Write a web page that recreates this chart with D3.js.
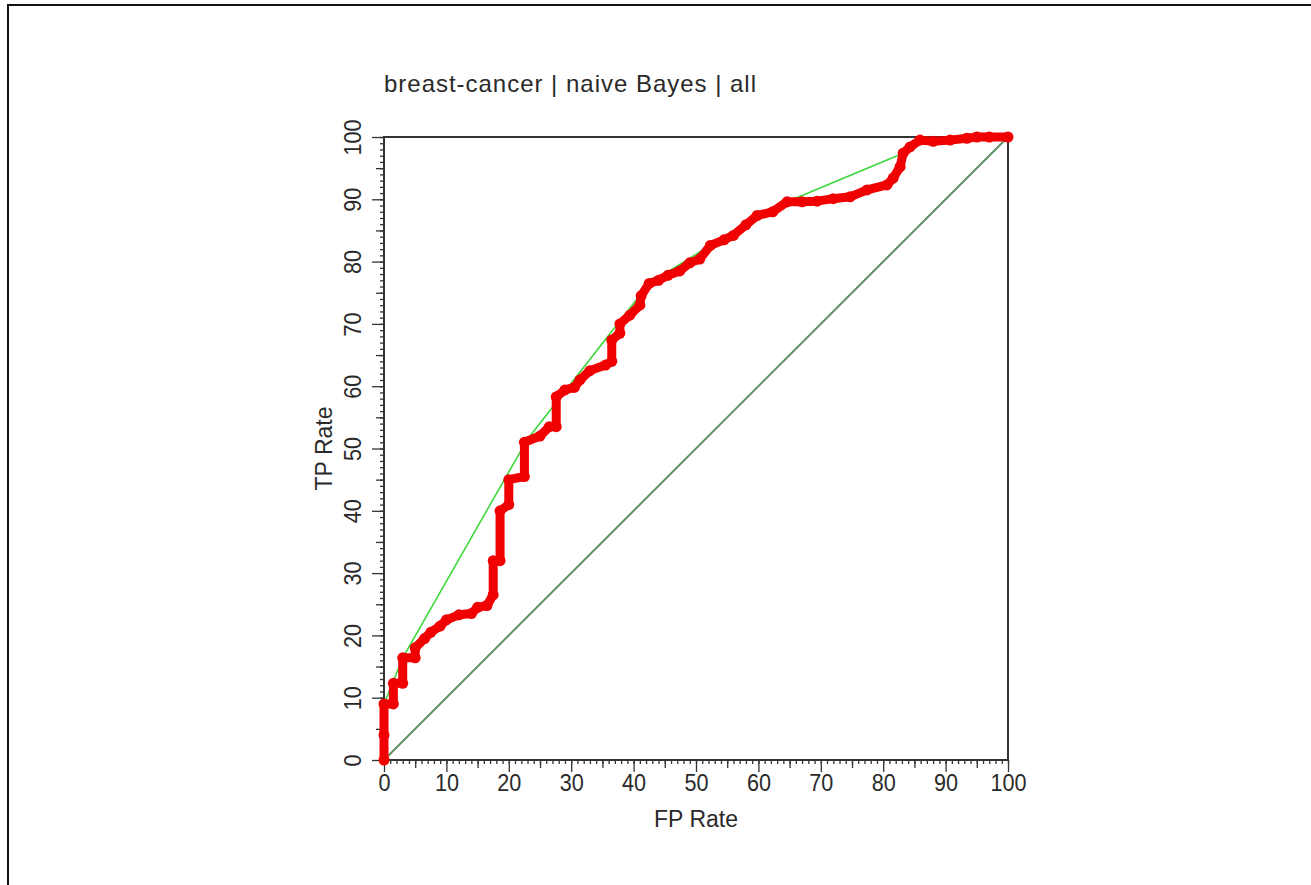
<!DOCTYPE html>
<html>
<head>
<meta charset="utf-8">
<script src="https://cdn.jsdelivr.net/npm/d3@7"></script>
<style>
  html, body { margin: 0; padding: 0; background: #fff; }
  svg { display: block; }
  text { font-family: "Liberation Sans", Arial, sans-serif; fill: #2a2a2a; }
</style>
</head>
<body>
<svg id="chart" width="1311" height="885"></svg>
<script>
// ROC curve: false positive rate vs true positive rate (percent)
const fpRate = [0, 0, 0, 1.5, 1.5, 3, 3, 5, 5, 6.5, 7.5, 9, 10, 12, 14, 15, 16.5, 17.5, 17.5, 18.6, 18.6, 20, 20,
  22.5, 22.5, 25, 26.5, 27.6, 27.6, 29, 30.5, 31.4, 33, 35.5, 36.5, 36.5, 37.8, 37.8, 39.4, 41, 41.2, 42.5, 44,
  45.5, 47.4, 49, 50.6, 52.3, 54.5, 56, 58, 59.8, 62.3, 64.6, 67, 69.4, 72, 74.7, 77.4, 80.6, 81.6, 82.7, 83.2,
  84.3, 85.9, 88, 90.7, 93.4, 95, 97, 100];
const tpRate = [0, 4, 9, 9, 12.3, 12.3, 16.4, 16.4, 18, 19.5, 20.5, 21.5, 22.5, 23.3, 23.5, 24.5, 24.8, 26.5, 32, 32,
  40, 41, 45, 45.5, 51, 52, 53.5, 53.5, 58.3, 59.4, 59.8, 61, 62.5, 63.4, 64, 67.4, 68.5, 70, 71.4, 73, 74.5, 76.5,
  77, 77.8, 78.5, 79.8, 80.4, 82.6, 83.5, 84.2, 85.9, 87.4, 88, 89.6, 89.6, 89.7, 90.1, 90.4, 91.5, 92.3, 93.4,
  95.2, 97.4, 98.4, 99.5, 99.3, 99.5, 99.8, 100, 100, 100];

// ROC convex hull
const hullFp = [0, 0, 3, 23, 42.5, 52.3, 59.8, 64.6, 83.2, 85.9, 95, 100];
const hullTp = [0, 9, 16.4, 51.5, 76.5, 82.6, 87.4, 89.6, 97.4, 99.5, 100, 100];

// chance diagonal
const diagFp = [0, 100];
const diagTp = [0, 100];

const majorTicks = [0, 10, 20, 30, 40, 50, 60, 70, 80, 90, 100];
const midTicks = [5, 15, 25, 35, 45, 55, 65, 75, 85, 95];
const minorTicks = d3.range(0, 101, 1);

const titleText = "breast-cancer | naive Bayes | all";
const xLabel = "FP Rate";
const yLabel = "TP Rate";

const svg = d3.select("#chart");

// outer frame
svg.append("rect")
  .attr("x", 8).attr("y", 5)
  .attr("width", 1400).attr("height", 1000)
  .attr("fill", "none").attr("stroke", "#111").attr("stroke-width", 2);

const x = d3.scaleLinear().domain([0, 100]).range([384, 1008]);
const y = d3.scaleLinear().domain([0, 100]).range([760, 137]);

const axisColor = "#333";
const tickFont = "24px";

// tick layers: minor, mid, major
function drawXAxis(values, size, labels) {
  const g = svg.append("g").attr("transform", `translate(0,${y(0)})`)
    .call(d3.axisBottom(x).tickValues(values).tickSize(size).tickSizeOuter(0)
      .tickFormat(labels ? d3.format("d") : ""));
  g.select(".domain").remove();
  g.selectAll("line").attr("stroke", axisColor).attr("stroke-width", 1.3);
  g.selectAll("text").attr("y", 31).attr("dy", 0)
    .attr("transform", "scale(0.9,1)")
    .style("font-size", tickFont).attr("fill", "#2a2a2a")
    .attr("font-family", "Liberation Sans, Arial, sans-serif");
  return g;
}
function drawYAxis(values, size, labels) {
  const g = svg.append("g").attr("transform", `translate(${x(0)},0)`)
    .call(d3.axisLeft(y).tickValues(values).tickSize(size).tickSizeOuter(0)
      .tickFormat(labels ? d3.format("d") : ""));
  g.select(".domain").remove();
  g.selectAll("line").attr("stroke", axisColor).attr("stroke-width", 1.3);
  g.selectAll("text")
    .attr("transform", "rotate(-90) scale(0.9,1)")
    .attr("x", 0).attr("y", -23).attr("dy", 0)
    .attr("text-anchor", "middle")
    .style("font-size", tickFont).attr("fill", "#2a2a2a")
    .attr("font-family", "Liberation Sans, Arial, sans-serif");
  return g;
}
drawXAxis(minorTicks, 4, false);
drawXAxis(midTicks, 8, false);
drawXAxis(majorTicks, 12, true);
drawYAxis(minorTicks, 4, false);
drawYAxis(midTicks, 8, false);
drawYAxis(majorTicks, 12, true);

// plot frame
svg.append("rect")
  .attr("x", x(0)).attr("y", y(100))
  .attr("width", x(100) - x(0)).attr("height", y(0) - y(100))
  .attr("fill", "none").attr("stroke", axisColor).attr("stroke-width", 2);

const line = d3.line().x(d => x(d[0])).y(d => y(d[1]));

// chance diagonal
svg.append("path")
  .datum(diagFp.map((v, i) => [v, diagTp[i]]))
  .attr("d", line)
  .attr("fill", "none").attr("stroke", "#5f8f5f").attr("stroke-width", 2);

// convex hull
svg.append("path")
  .datum(hullFp.map((v, i) => [v, hullTp[i]]))
  .attr("d", line)
  .attr("fill", "none").attr("stroke", "#3fd83f").attr("stroke-width", 1.6);

// ROC curve
const roc = fpRate.map((v, i) => [v, tpRate[i]]);
svg.append("path")
  .datum(roc)
  .attr("d", line)
  .attr("fill", "none").attr("stroke", "#f00000").attr("stroke-width", 9)
  .attr("stroke-linejoin", "round").attr("stroke-linecap", "round");
svg.append("g").selectAll("circle").data(roc).join("circle")
  .attr("cx", d => x(d[0])).attr("cy", d => y(d[1])).attr("r", 5.5)
  .attr("fill", "#f00000");

// title
svg.append("text")
  .attr("x", 384).attr("y", 92)
  .attr("textLength", 372).attr("lengthAdjust", "spacing")
  .style("font-size", "24px")
  .text(titleText);

// axis labels
svg.append("text")
  .attr("x", (x(0) + x(100)) / 2).attr("y", 827)
  .attr("text-anchor", "middle")
  .style("font-size", "23px")
  .text(xLabel);

svg.append("text")
  .attr("transform", `translate(332,${(y(0) + y(100)) / 2}) rotate(-90)`)
  .attr("text-anchor", "middle")
  .style("font-size", "23px")
  .text(yLabel);
</script>
</body>
</html>
